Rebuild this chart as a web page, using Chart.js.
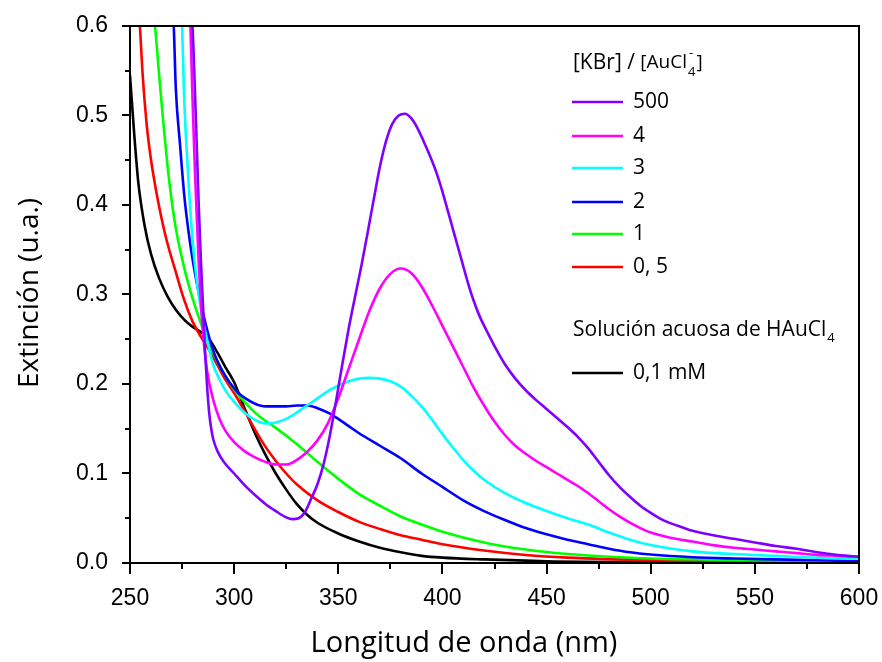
<!DOCTYPE html>
<html>
<head>
<meta charset="utf-8">
<script src="https://cdn.jsdelivr.net/npm/chart.js@4/dist/chart.umd.min.js"></script>
<style>
  html, body { margin: 0; padding: 0; background: #fff; }
  #wrap { width: 882px; height: 662px; }
</style>
</head>
<body>
<div id="wrap"><canvas id="c" width="882" height="662"></canvas></div>
<script>
// Extinction spectra of HAuCl4 with increasing [KBr]/[AuCl4-] ratio
const xTicks = [250, 300, 350, 400, 450, 500, 550, 600];
const yTicks = [0.0, 0.1, 0.2, 0.3, 0.4, 0.5, 0.6];

// 0,1 mM aqueous HAuCl4 (no KBr)
const wlRef  = [250, 252, 254, 257, 260, 264, 268, 272, 276, 280, 284, 288, 292, 296, 300, 305, 310, 315, 320, 325, 330, 335, 340, 350, 360, 370, 380, 390, 400, 420, 450, 500, 600];
const extRef = [0.545, 0.48, 0.425, 0.377, 0.346, 0.318, 0.298, 0.283, 0.272, 0.264, 0.258, 0.25, 0.235, 0.218, 0.202, 0.173, 0.145, 0.121, 0.1, 0.082, 0.066, 0.054, 0.045, 0.033, 0.024, 0.017, 0.012, 0.008, 0.006, 0.004, 0.002, 0.001, 0.0005];

// ratio 0,5
const wl05  = [254, 255, 256, 258, 260, 262, 264, 266, 268, 272, 276, 280, 284, 288, 292, 296, 300, 305, 310, 315, 320, 325, 330, 340, 350, 360, 370, 380, 390, 400, 420, 440, 460, 500, 550, 600];
const ext05 = [0.63, 0.59, 0.548, 0.49, 0.452, 0.423, 0.398, 0.376, 0.357, 0.325, 0.294, 0.27, 0.253, 0.238, 0.221, 0.204, 0.19, 0.17, 0.149, 0.13, 0.114, 0.1, 0.088, 0.07, 0.057, 0.046, 0.038, 0.031, 0.026, 0.021, 0.014, 0.009, 0.006, 0.003, 0.0015, 0.001];

// ratio 1
const wl1  = [261, 262, 264, 266, 268, 270, 272, 276, 280, 284, 288, 292, 296, 300, 305, 310, 315, 320, 330, 340, 350, 360, 370, 380, 390, 400, 420, 440, 460, 480, 500, 550, 600];
const ext1 = [0.62, 0.6, 0.545, 0.492, 0.444, 0.405, 0.374, 0.33, 0.296, 0.268, 0.245, 0.225, 0.208, 0.194, 0.18, 0.168, 0.159, 0.151, 0.133, 0.113, 0.094, 0.077, 0.064, 0.052, 0.043, 0.035, 0.023, 0.015, 0.01, 0.007, 0.005, 0.003, 0.002];

// ratio 2
const wl2  = [270, 271, 272, 274, 276, 278, 280, 283, 286, 290, 294, 298, 302, 306, 310, 315, 320, 325, 330, 335, 340, 345, 350, 355, 360, 370, 380, 390, 400, 410, 420, 430, 440, 450, 460, 470, 480, 490, 500, 520, 540, 560, 580, 600];
const ext2 = [0.63, 0.6, 0.53, 0.468, 0.412, 0.372, 0.34, 0.302, 0.27, 0.237, 0.216, 0.201, 0.19, 0.183, 0.178, 0.175, 0.175, 0.175, 0.176, 0.176, 0.173, 0.168, 0.161, 0.153, 0.145, 0.131, 0.117, 0.1, 0.085, 0.07, 0.058, 0.048, 0.039, 0.032, 0.026, 0.021, 0.016, 0.012, 0.0095, 0.0065, 0.005, 0.004, 0.003, 0.002];

// ratio 3
const wl3  = [274, 275, 276, 278, 280, 282, 284, 286, 288, 290, 293, 296, 300, 305, 310, 315, 320, 325, 330, 335, 340, 345, 350, 355, 360, 365, 370, 375, 380, 385, 390, 395, 400, 405, 410, 415, 420, 430, 440, 450, 460, 470, 480, 490, 500, 520, 540, 560, 580, 600];
const ext3 = [0.63, 0.6, 0.52, 0.43, 0.362, 0.316, 0.285, 0.26, 0.239, 0.221, 0.205, 0.192, 0.18, 0.168, 0.16, 0.156, 0.157, 0.161, 0.168, 0.176, 0.184, 0.192, 0.198, 0.203, 0.206, 0.207, 0.206, 0.203, 0.197, 0.187, 0.175, 0.16, 0.144, 0.129, 0.115, 0.103, 0.093, 0.078, 0.067, 0.058, 0.05, 0.043, 0.034, 0.026, 0.02, 0.013, 0.01, 0.008, 0.006, 0.005];

// ratio 4
const wl4  = [278, 279, 280, 281, 282, 283, 284, 285, 287, 290, 293, 296, 300, 305, 310, 315, 320, 325, 330, 335, 340, 345, 350, 355, 360, 365, 370, 375, 380, 385, 390, 395, 400, 405, 410, 415, 420, 425, 430, 435, 440, 445, 450, 455, 460, 465, 470, 475, 480, 485, 490, 495, 500, 510, 520, 530, 540, 550, 560, 570, 580, 590, 600];
const ext4 = [0.63, 0.6, 0.52, 0.45, 0.39, 0.335, 0.292, 0.258, 0.215, 0.182, 0.161, 0.147, 0.135, 0.125, 0.118, 0.113, 0.11, 0.11, 0.115, 0.124, 0.137, 0.156, 0.184, 0.217, 0.25, 0.282, 0.307, 0.323, 0.329, 0.324, 0.309, 0.288, 0.265, 0.242, 0.219, 0.196, 0.176, 0.158, 0.143, 0.131, 0.122, 0.114, 0.107, 0.1, 0.093, 0.086, 0.078, 0.069, 0.06, 0.052, 0.045, 0.039, 0.034, 0.028, 0.024, 0.02, 0.017, 0.015, 0.013, 0.011, 0.009, 0.008, 0.007];

// ratio 500
const wl500  = [279, 280, 281, 282, 283, 284, 285, 286, 287, 288, 289, 290, 292, 295, 300, 305, 310, 315, 320, 325, 328, 331, 334, 337, 340, 343, 346, 349, 352, 355, 358, 361, 364, 367, 370, 373, 376, 379, 382, 385, 388, 391, 394, 397, 400, 403, 406, 409, 412, 415, 418, 422, 426, 430, 435, 440, 445, 450, 455, 460, 465, 470, 475, 480, 485, 490, 495, 500, 505, 510, 515, 520, 530, 540, 550, 560, 570, 580, 590, 600];
const ext500 = [0.63, 0.6, 0.54, 0.47, 0.4, 0.34, 0.29, 0.238, 0.198, 0.168, 0.15, 0.138, 0.125, 0.113, 0.1, 0.087, 0.076, 0.066, 0.058, 0.051, 0.049, 0.05, 0.057, 0.072, 0.088, 0.111, 0.143, 0.182, 0.223, 0.262, 0.297, 0.331, 0.368, 0.406, 0.443, 0.472, 0.491, 0.5, 0.502, 0.497, 0.486, 0.471, 0.455, 0.437, 0.415, 0.39, 0.365, 0.34, 0.315, 0.293, 0.275, 0.256, 0.238, 0.222, 0.206, 0.193, 0.182, 0.172, 0.162, 0.152, 0.141, 0.128, 0.113, 0.098, 0.085, 0.074, 0.064, 0.056, 0.049, 0.044, 0.04, 0.036, 0.031, 0.027, 0.023, 0.019, 0.016, 0.012, 0.009, 0.007];

const seriesNames  = ['0,1 mM', '0, 5', '1', '2', '3', '4', '500'];
const seriesColors = ['#000000', '#ff0000', '#00ff00', '#0000ff', '#00ffff', '#ff00ff', '#8000ff'];
const seriesX = [wlRef, wl05, wl1, wl2, wl3, wl4, wl500];
const seriesY = [extRef, ext05, ext1, ext2, ext3, ext4, ext500];

const datasets = seriesNames.map((name, i) => ({
  label: name,
  data: seriesX[i].map((w, k) => ({ x: w, y: seriesY[i][k] })),
  borderColor: seriesColors[i],
  borderWidth: 2.6,
  pointRadius: 0,
  fill: false,
  cubicInterpolationMode: 'monotone',
  order: seriesNames.length - i
}));

// frame, outward major/minor ticks and axis titles
const framePlugin = {
  id: 'frame',
  afterDatasetsDraw(chart) {
    const { ctx, chartArea: a, scales: { x, y } } = chart;
    ctx.save();
    ctx.strokeStyle = '#000';
    ctx.lineWidth = 2;
    ctx.strokeRect(a.left, a.top, a.right - a.left, a.bottom - a.top);
    ctx.beginPath();
    for (let v = 250; v <= 600; v += 25) {
      const px = Math.round(x.getPixelForValue(v));
      const len = (v % 50 === 0) ? 11 : 6;
      ctx.moveTo(px, a.bottom);
      ctx.lineTo(px, a.bottom + len);
    }
    for (let i = 0; i <= 12; i++) {
      const py = Math.round(y.getPixelForValue(i * 0.05));
      const len = (i % 2 === 0) ? 8 : 5;
      ctx.moveTo(a.left, py);
      ctx.lineTo(a.left - len, py);
    }
    ctx.stroke();

    ctx.fillStyle = '#000';
    ctx.font = '29px "Open Sans"';
    ctx.textAlign = 'center';
    ctx.textBaseline = 'middle';
    ctx.fillText('Longitud de onda (nm)', 464, 644);
    ctx.font = '28px "Open Sans"';
    ctx.translate(30, 293);
    ctx.rotate(-Math.PI / 2);
    ctx.fillText('Extinción (u.a.)', 0, 0);
    ctx.restore();
  }
};

// legend block on the right of the plot
const legendPlugin = {
  id: 'spectraLegend',
  afterDatasetsDraw(chart) {
    const ctx = chart.ctx;
    ctx.save();
    ctx.fillStyle = '#000';
    ctx.textBaseline = 'middle';
    ctx.textAlign = 'left';
    const big = '21px "Open Sans"';
    const mid = '19px "Open Sans"';
    const small = '13px "Open Sans"';

    // title: [KBr] / [AuCl4-]
    let tx = 573, ty = 63;
    ctx.font = big;
    const t1 = '[KBr] / ';
    ctx.fillText(t1, tx, ty);
    tx += ctx.measureText(t1).width;
    ctx.font = mid;
    const t2 = '[AuCl';
    ctx.fillText(t2, tx, ty);
    tx += ctx.measureText(t2).width + 1;
    ctx.font = small;
    ctx.fillText('-', tx + 1, ty - 10);
    ctx.fillText('4', tx, ty + 9);
    tx += ctx.measureText('4').width + 1;
    ctx.font = mid;
    ctx.fillText(']', tx, ty);

    const rows = [
      { i: 6, y: 102 }, { i: 5, y: 136 }, { i: 4, y: 168 },
      { i: 3, y: 202 }, { i: 2, y: 234 }, { i: 1, y: 267 }
    ];
    rows.forEach(r => {
      ctx.strokeStyle = seriesColors[r.i];
      ctx.lineWidth = 2.6;
      ctx.beginPath();
      ctx.moveTo(572, r.y);
      ctx.lineTo(623, r.y);
      ctx.stroke();
      ctx.font = big;
      ctx.fillText(seriesNames[r.i], 633, r.y);
    });

    // aqueous reference
    ctx.font = big;
    const s1 = 'Solución acuosa de HAuCl';
    ctx.fillText(s1, 573, 330);
    const sw = ctx.measureText(s1).width;
    ctx.font = small;
    ctx.fillText('4', 573 + sw + 1, 338);

    ctx.strokeStyle = seriesColors[0];
    ctx.beginPath();
    ctx.moveTo(572, 373);
    ctx.lineTo(623, 373);
    ctx.stroke();
    ctx.font = big;
    ctx.fillText(seriesNames[0], 633, 373);
    ctx.restore();
  }
};

new Chart(document.getElementById('c'), {
  type: 'line',
  data: { datasets },
  options: {
    responsive: false,
    devicePixelRatio: 1,
    animation: false,
    layout: { padding: { top: 26, right: 23, left: 0, bottom: 0 } },
    plugins: { legend: { display: false }, tooltip: { enabled: false } },
    scales: {
      x: {
        type: 'linear',
        min: 250, max: 600,
        afterFit: s => { s.height = 99; s.paddingLeft = 0; s.paddingRight = 0; },
        afterBuildTicks: s => { s.ticks = xTicks.map(v => ({ value: v })); },
        grid: { display: false },
        border: { display: false },
        ticks: {
          color: '#000',
          font: { family: 'Liberation Sans', size: 23 },
          padding: 14,
          maxRotation: 0,
          callback: v => String(v)
        }
      },
      y: {
        type: 'linear',
        min: 0, max: 0.6,
        afterFit: s => { s.width = 130; s.paddingTop = 0; s.paddingBottom = 0; },
        afterBuildTicks: s => { s.ticks = yTicks.map(v => ({ value: v })); },
        grid: { display: false },
        border: { display: false },
        ticks: {
          color: '#000',
          font: { family: 'Liberation Sans', size: 23 },
          padding: 14,
          callback: v => Number(v).toFixed(1)
        }
      }
    }
  },
  plugins: [framePlugin, legendPlugin]
});
</script>
</body>
</html>
